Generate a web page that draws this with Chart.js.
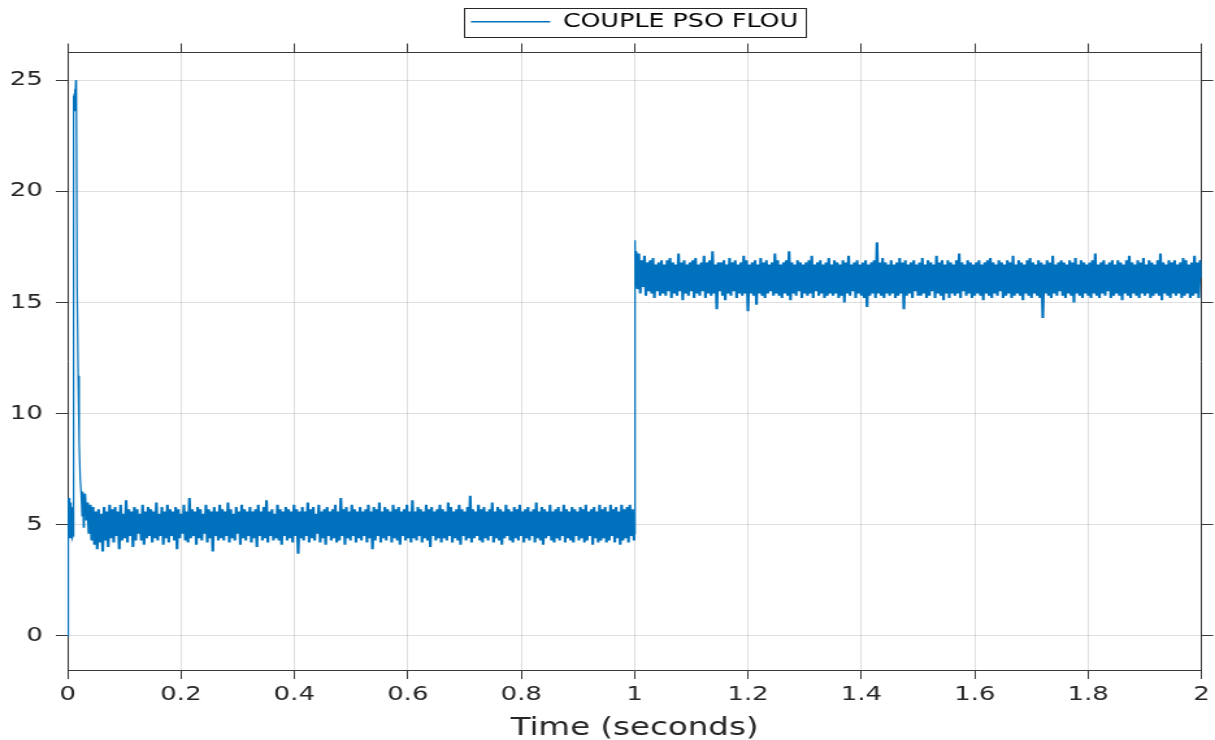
<!DOCTYPE html>
<html>
<head>
<meta charset="utf-8">
<title>COUPLE PSO FLOU</title>
<script src="https://cdn.jsdelivr.net/npm/chart.js@4.4.1/dist/chart.umd.min.js"></script>
<style>
  html, body { margin: 0; padding: 0; background: #ffffff; overflow: hidden; }
  /* the figure is laid out on a narrower canvas and widened to the window */
  #wrap { width: 935px; height: 740px; transform: scaleX(1.29947); transform-origin: 0 0; }
  canvas { display: block; }
</style>
</head>
<body>
<div id="wrap"><canvas id="torque" width="935" height="740"></canvas></div>
<script>
// ---- data -------------------------------------------------------------
const seriesLabel = 'COUPLE PSO FLOU';
const axisTitle = 'Time (seconds)';

const xTickValues = [0, 0.2, 0.4, 0.6, 0.8, 1, 1.2, 1.4, 1.6, 1.8, 2];
const xTickLabels = ['0', '0.2', '0.4', '0.6', '0.8', '1', '1.2', '1.4', '1.6', '1.8', '2'];
const yTickValues = [0, 5, 10, 15, 20, 25];
const yTickLabels = ['0', '5', '10', '15', '20', '25'];
const xRange = [0, 2];
const yRange = [-1.53, 26.24];

// start-up transient (s, N.m)
const startTimes = [0, 0.0004, 0.0008, 0.0012, 0.0016, 0.0020, 0.0024, 0.0028, 0.0032, 0.0036,
  0.0040, 0.0044, 0.0048, 0.0052, 0.0056, 0.0060, 0.0064, 0.0068, 0.0072, 0.0076,
  0.0080, 0.0086, 0.0094, 0.0100, 0.0106, 0.0112, 0.0118, 0.0124, 0.0130, 0.0136,
  0.0142, 0.0148, 0.0154, 0.0160, 0.0168, 0.0186, 0.0204, 0.0222, 0.0240, 0.0256,
  0.0268, 0.0280, 0.0292];
const startValues = [0, 5.2, 6.2, 4.6, 6.0, 4.5, 6.1, 4.8, 5.8, 4.4,
  6.2, 4.6, 5.7, 4.5, 5.9, 4.7, 6.0, 4.4, 5.8, 4.6,
  5.6, 4.4, 4.5, 23.4, 24.3, 23.5, 24.4, 23.6, 24.6, 23.8,
  24.8, 24.7, 25.0, 24.9, 15.7, 11.7, 8.7, 7.1, 6.4, 5.4,
  6.5, 4.9, 6.1];

// first load level, samples evenly spread over lowSpan
const lowSpan = [0.0304, 0.9990];
const lowValues = [
  6.4, 5.2, 6.0, 4.6, 5.9, 4.3, 5.8, 4.1, 5.6, 3.9, 5.7, 4.2, 5.5, 3.8, 5.8, 4.3, 5.6, 4.0, 5.9, 4.4,
  5.7, 4.2, 5.8, 4.5, 5.6, 3.9, 5.9, 4.3, 5.5, 4.4, 6.1, 4.2, 5.7, 4.5, 5.6, 4.0, 5.8, 4.3, 5.7, 4.6,
  5.5, 4.3, 5.9, 4.1, 5.6, 4.4, 5.8, 4.5, 5.7, 4.2, 5.6, 4.4, 6.0, 4.3, 5.5, 4.5, 5.8, 4.1, 5.6, 4.4,
  5.9, 4.2, 5.7, 4.5, 5.6, 4.3, 5.8, 3.9, 5.7, 4.4, 5.5, 4.6, 5.9, 4.3, 5.6, 4.2, 6.2, 4.4, 5.7, 4.5,
  5.6, 4.1, 5.8, 4.4, 5.7, 4.3, 5.5, 4.6, 5.9, 4.2, 5.7, 4.4, 5.6, 3.8, 5.8, 4.5, 5.6, 4.3, 5.9, 4.4,
  5.7, 4.3, 5.6, 4.5, 6.0, 4.2, 5.7, 4.4, 5.5, 4.3, 5.8, 4.6, 5.6, 4.1, 5.9, 4.4, 5.7, 4.3, 5.6, 4.5,
  5.8, 4.2, 5.6, 4.4, 5.7, 4.0, 5.9, 4.5, 5.6, 4.3, 5.8, 4.4, 6.1, 4.2, 5.6, 4.5, 5.7, 4.3, 5.5, 4.4,
  5.9, 4.3, 5.7, 4.1, 5.6, 4.5, 5.8, 4.3, 5.7, 4.4, 5.6, 4.2, 5.9, 4.5, 5.7, 3.7, 5.6, 4.4, 5.8, 4.3,
  5.6, 4.5, 6.0, 4.2, 5.7, 4.4, 5.8, 4.3, 5.5, 4.6, 5.9, 4.2, 5.6, 4.4, 5.7, 4.1, 5.8, 4.5, 5.6, 4.3,
  5.7, 4.4, 5.9, 4.2, 5.6, 4.3, 6.2, 4.5, 5.7, 4.1, 5.8, 4.4, 5.6, 4.3, 5.9, 4.5, 5.7, 4.2, 5.6, 4.4,
  5.8, 4.3, 5.6, 4.5, 5.7, 4.2, 5.9, 4.4, 5.6, 3.9, 5.8, 4.3, 5.7, 4.5, 6.0, 4.2, 5.6, 4.4, 5.8, 4.3,
  5.7, 4.5, 5.6, 4.2, 5.9, 4.4, 5.7, 4.3, 5.8, 4.1, 5.6, 4.5, 5.7, 4.3, 5.9, 4.4, 5.6, 4.2, 6.1, 4.4,
  5.6, 4.3, 5.8, 4.5, 5.7, 4.2, 5.6, 4.4, 5.9, 4.3, 5.7, 4.0, 5.8, 4.5, 5.6, 4.3, 5.7, 4.4, 5.9, 4.2,
  5.7, 4.4, 5.6, 4.3, 6.0, 4.5, 5.8, 4.2, 5.6, 4.4, 5.7, 4.3, 5.9, 4.1, 5.7, 4.5, 5.6, 4.3, 5.8, 4.4,
  6.3, 4.2, 5.7, 4.4, 5.6, 4.5, 5.9, 4.3, 5.7, 4.2, 5.8, 4.4, 5.6, 4.3, 5.7, 4.5, 6.0, 4.2, 5.6, 4.4,
  5.8, 4.3, 5.7, 4.1, 5.6, 4.4, 5.9, 4.5, 5.7, 4.3, 5.6, 4.2, 5.8, 4.4, 5.7, 4.3, 5.9, 4.5, 5.6, 4.2,
  5.7, 4.4, 5.8, 4.3, 5.6, 4.5, 5.7, 4.2, 6.0, 4.4, 5.6, 4.3, 5.8, 4.1, 5.7, 4.4, 5.6, 4.5, 5.9, 4.3,
  5.6, 4.2, 5.7, 4.4, 5.8, 4.3, 5.6, 4.5, 5.9, 4.2, 5.7, 4.4, 5.6, 4.3, 5.8, 4.2, 5.7, 4.5, 5.6, 4.3,
  5.8, 4.4, 5.7, 4.2, 5.9, 4.3, 5.6, 4.5, 5.7, 4.1, 5.8, 4.4, 5.6, 4.2, 5.9, 4.3, 5.7, 4.4, 5.8, 4.2,
  5.6, 4.3, 5.9, 4.5, 5.7, 4.2, 5.8, 4.4, 5.6, 4.1, 5.9, 4.3, 5.7, 4.4, 5.8, 4.2, 5.9, 4.5, 5.7, 4.3
];

// load step at t = 1 s
const stepTimes = [1.0000, 1.0006, 1.0012, 1.0018];
const stepValues = [4.6, 14.2, 17.8, 15.7];

// second load level, samples evenly spread over highSpan
const highSpan = [1.0025, 2.0];
const highValues = [
  17.3, 15.6, 17.2, 15.4, 16.9, 15.7, 17.1, 15.3, 16.8, 15.5, 16.9, 15.4, 17.0, 15.2, 16.7, 15.5, 16.8, 15.3, 16.9, 15.4,
  16.7, 15.3, 16.9, 15.5, 17.0, 15.2, 16.8, 15.4, 16.7, 15.3, 17.2, 15.5, 16.8, 15.1, 16.9, 15.4, 16.7, 15.3, 16.8, 15.5,
  16.9, 15.2, 17.0, 15.4, 16.7, 15.3, 16.8, 15.5, 17.1, 15.2, 16.8, 15.4, 16.9, 15.3, 17.3, 15.4, 16.7, 14.7, 16.8, 15.5,
  16.8, 15.3, 16.9, 15.1, 16.7, 15.4, 17.0, 15.3, 16.8, 15.5, 16.9, 15.2, 16.7, 15.4, 16.8, 15.3, 17.1, 15.4, 16.9, 14.6,
  16.7, 15.4, 16.8, 15.3, 16.9, 14.9, 16.7, 15.4, 17.0, 15.3, 16.8, 15.2, 16.9, 15.4, 16.7, 15.5, 16.8, 15.3, 17.2, 15.4,
  16.9, 15.3, 16.7, 15.2, 16.8, 15.4, 16.9, 15.3, 17.3, 15.1, 16.8, 15.4, 16.7, 15.3, 16.9, 15.5, 16.8, 15.2, 16.7, 15.4,
  16.8, 15.3, 16.9, 15.4, 17.1, 15.2, 16.7, 15.5, 16.8, 15.3, 16.9, 15.4, 16.7, 15.2, 16.8, 15.3, 17.0, 15.4, 16.7, 15.3,
  16.9, 15.4, 16.8, 15.2, 16.7, 15.3, 16.9, 15.0, 16.8, 15.4, 17.1, 15.3, 16.7, 15.5, 16.8, 15.2, 16.9, 15.4, 16.7, 15.3,
  16.8, 15.2, 16.9, 14.8, 16.7, 15.3, 16.8, 15.4, 16.9, 15.2, 17.7, 15.4, 16.8, 15.3, 17.0, 15.2, 16.8, 15.4, 16.7, 15.3,
  16.9, 15.4, 16.7, 15.2, 16.8, 15.3, 17.0, 15.4, 16.8, 14.7, 16.9, 15.3, 16.7, 15.4, 16.8, 15.2, 16.9, 15.5, 16.7, 15.3,
  16.8, 15.3, 17.0, 15.4, 16.7, 15.2, 16.9, 15.3, 16.8, 15.5, 16.7, 15.2, 17.1, 15.4, 16.8, 15.3, 16.9, 15.1, 16.7, 15.4,
  16.9, 15.2, 16.8, 15.4, 16.7, 15.3, 16.9, 15.4, 17.2, 15.2, 16.8, 15.5, 16.7, 15.3, 16.9, 15.4, 16.8, 15.2, 16.7, 15.3,
  16.8, 15.4, 16.9, 15.3, 16.7, 15.1, 16.8, 15.4, 16.9, 15.3, 17.0, 15.2, 16.8, 15.4, 16.7, 15.3, 16.9, 15.5, 16.8, 15.2,
  16.7, 15.3, 16.9, 15.4, 16.8, 15.2, 17.1, 15.3, 16.7, 15.4, 16.9, 15.3, 16.8, 15.1, 16.7, 15.4, 16.9, 15.3, 17.0, 15.2,
  16.8, 15.4, 16.7, 15.3, 16.9, 15.2, 16.8, 14.3, 16.7, 15.4, 16.9, 15.3, 16.8, 15.2, 17.1, 15.4, 16.7, 15.3, 16.8, 15.5,
  16.9, 15.3, 16.8, 15.2, 16.7, 15.4, 16.9, 15.3, 16.8, 15.0, 17.0, 15.4, 16.7, 15.3, 16.9, 15.2, 16.8, 15.4, 16.7, 15.3,
  16.8, 15.2, 16.9, 15.4, 17.2, 15.3, 16.7, 15.2, 16.8, 15.4, 16.9, 15.3, 16.7, 15.5, 16.8, 15.2, 16.9, 15.3, 16.7, 15.4,
  16.9, 15.3, 16.8, 15.1, 16.7, 15.4, 16.9, 15.3, 17.1, 15.2, 16.8, 15.4, 16.7, 15.3, 16.9, 15.2, 16.8, 15.4, 17.0, 15.3,
  16.7, 15.4, 16.9, 15.2, 16.8, 15.3, 16.7, 15.4, 16.9, 15.3, 17.2, 15.1, 16.8, 15.4, 16.7, 15.3, 16.9, 15.2, 16.8, 15.4,
  16.9, 15.3, 16.7, 15.4, 16.8, 15.2, 17.0, 15.3, 16.9, 15.4, 16.7, 15.2, 16.8, 15.3, 17.1, 15.4, 16.8, 15.2, 16.9, 16.1
];

// ---- build the sample list --------------------------------------------
function spread(span, values) {
  const n = values.length;
  const dt = (span[1] - span[0]) / (n - 1);
  return values.map((v, i) => ({ x: span[0] + i * dt, y: v }));
}
const samples = []
  .concat(startTimes.map((t, i) => ({ x: t, y: startValues[i] })))
  .concat(spread(lowSpan, lowValues))
  .concat(stepTimes.map((t, i) => ({ x: t, y: stepValues[i] })))
  .concat(spread(highSpan, highValues));

// index ranges of the two steady (dense) stretches
const lowFirst = startTimes.length;
const lowLast = lowFirst + lowValues.length - 1;
const highFirst = lowLast + 1 + stepTimes.length;
const inDenseStretch = (i) => (i >= lowFirst && i < lowLast) || i >= highFirst;

// ---- styling ----------------------------------------------------------
const FONT = 'DejaVu Sans';
const INK = '#262626';
const AXIS = '#3a3a3a';
const GRID = 'rgba(38,38,38,0.15)';
const LINE = '#0072BD';

const LEFT_W = 52;            // left axis box
const RIGHT_W = 935 - 925.4;  // right axis box
const TOP_EDGE = 52.5;        // top of plot frame
const BOTTOM_H = 70;          // bottom axis box

const fixedTicks = (values) => (scale) => { scale.ticks = values.map(v => ({ value: v })); };

// border round the legend entry
const legendFrame = {
  id: 'legendFrame',
  afterDraw(chart) {
    const lg = chart.legend;
    if (!lg || !lg.legendHitBoxes || !lg.legendHitBoxes.length) return;
    const hb = lg.legendHitBoxes[0];
    const ctx = chart.ctx;
    ctx.save();
    ctx.strokeStyle = INK;
    ctx.lineWidth = 1;
    const x0 = Math.round(hb.left - 5.5) + 0.5;
    const y0 = Math.round(hb.top - 4.5) + 0.5;
    const x1 = Math.round(hb.left + hb.width + 6) + 0.5;
    const y1 = Math.round(hb.top + hb.height + 5.5) + 0.5;
    ctx.strokeRect(x0, y0, x1 - x0, y1 - y0);
    ctx.restore();
  }
};

let legendHeight = 41.5;

new Chart(document.getElementById('torque'), {
  type: 'scatter',
  data: {
    datasets: [{
      label: seriesLabel,
      data: samples,
      showLine: true,
      borderColor: LINE,
      backgroundColor: LINE,
      borderWidth: 1.25,
      segment: {
        borderWidth: (ctx) => inDenseStretch(ctx.p0DataIndex) ? 2.1 : 1.25
      },
      pointRadius: 0,
      pointHoverRadius: 0,
      tension: 0,
      fill: false
    }]
  },
  options: {
    responsive: false,
    animation: false,
    devicePixelRatio: 1,
    events: [],
    layout: { padding: 0 },
    plugins: {
      tooltip: { enabled: false },
      legend: {
        display: true,
        position: 'top',
        align: 'center',
        fullSize: false,
        labels: {
          boxWidth: 61,
          boxHeight: 1.3,
          padding: 12,
          color: '#111111',
          font: { family: FONT, size: 19.5 },
          generateLabels: () => [{
            text: seriesLabel,
            fillStyle: LINE,
            strokeStyle: LINE,
            lineWidth: 0,
            hidden: false,
            datasetIndex: 0
          }]
        },
        afterFit(lg) { legendHeight = lg.height; }
      }
    },
    scales: {
      x: {
        type: 'linear',
        position: 'bottom',
        min: xRange[0], max: xRange[1],
        afterBuildTicks: fixedTicks(xTickValues),
        afterFit(s) { s.height = BOTTOM_H; },
        ticks: {
          autoSkip: false, maxRotation: 0, padding: 4,
          color: INK,
          font: { family: FONT, size: 20 },
          callback: (v, i) => xTickLabels[i]
        },
        grid: { color: GRID, lineWidth: 1, tickColor: AXIS, tickLength: 9, tickWidth: 1 },
        border: { color: AXIS, width: 1 },
        title: {
          display: true, text: axisTitle, color: INK,
          font: { family: FONT, size: 25 }, padding: { top: 0, bottom: -3 }
        }
      },
      xTop: {
        type: 'linear',
        position: 'top',
        min: xRange[0], max: xRange[1],
        afterBuildTicks: fixedTicks(xTickValues),
        afterFit(s) { s.height = TOP_EDGE - legendHeight; },
        ticks: { display: false },
        grid: { drawOnChartArea: false, color: AXIS, tickColor: AXIS, tickLength: 9, lineWidth: 1 },
        border: { color: AXIS, width: 1 }
      },
      y: {
        type: 'linear',
        position: 'left',
        min: yRange[0], max: yRange[1],
        afterBuildTicks: fixedTicks(yTickValues),
        afterFit(s) { s.width = LEFT_W; },
        ticks: {
          padding: 10, color: INK,
          font: { family: FONT, size: 20 },
          callback: (v, i) => yTickLabels[i]
        },
        grid: { color: GRID, lineWidth: 1, tickColor: AXIS, tickLength: 9 },
        border: { color: AXIS, width: 1 }
      },
      yRight: {
        type: 'linear',
        position: 'right',
        min: yRange[0], max: yRange[1],
        afterBuildTicks: fixedTicks(yTickValues),
        afterFit(s) { s.width = RIGHT_W; },
        ticks: { display: false },
        grid: { drawOnChartArea: false, color: AXIS, tickColor: AXIS, tickLength: 9, lineWidth: 1 },
        border: { color: AXIS, width: 1 }
      }
    }
  },
  plugins: [legendFrame]
});
</script>
</body>
</html>
